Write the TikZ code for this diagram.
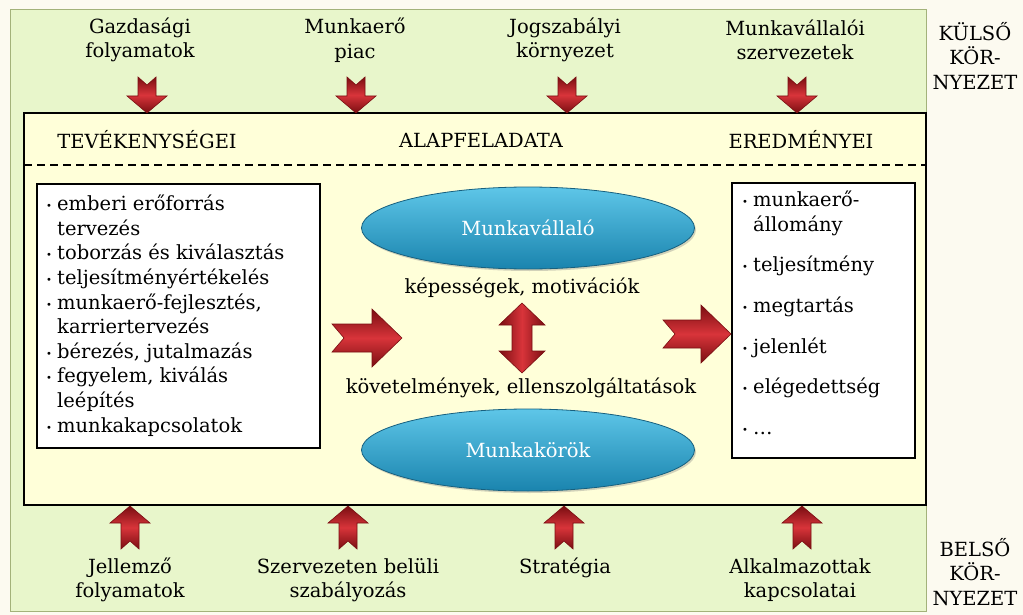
\documentclass[tikz,border=0pt]{standalone}
\usepackage{fontspec}
\setmainfont{DejaVu Serif}
\usetikzlibrary{shapes.geometric,shadows}
\definecolor{bgcream}{HTML}{FCFAF0}
\definecolor{bggreen}{HTML}{E8F6CB}
\definecolor{greenline}{HTML}{A3B27A}
\definecolor{inneryellow}{HTML}{FFFFD9}
\definecolor{arrdark}{HTML}{7A0E12}
\definecolor{arrlight}{HTML}{D8343A}
\definecolor{elltop}{HTML}{5EC6E8}
\definecolor{ellbot}{HTML}{1A84AE}
\definecolor{ellline}{HTML}{17607F}
\newcommand\blkarrow[8]{% x, y, angle, length, shaft, head, headlen, notch
  \path[arrowstyle, shift={(#1,#2)}, rotate=#3]
    (0,{-#5/2}) -- ({#4-#7},{-#5/2}) -- ({#4-#7},{-#6/2}) -- (#4,0)
    -- ({#4-#7},{#6/2}) -- ({#4-#7},{#5/2}) -- (0,{#5/2}) -- (#8,0) -- cycle;}
\newcommand\bul{\makebox[11pt][l]{\raisebox{1pt}{\fontsize{10}{10}\selectfont•}}}
\newcommand\ind{\hspace*{11pt}}
\begin{document}
\begin{tikzpicture}[x=1pt,y=-1pt,
  font=\fontsize{19.5}{24.6}\selectfont,
  arrowstyle/.style={draw=arrdark, line width=0.6pt, shading=axis,
    top color=arrdark, bottom color=arrdark, middle color=arrlight},
  listbox/.style={draw=black, line width=1.6pt, fill=white, inner sep=0pt},
  ellnode/.style={ellipse, draw=ellline, line width=0.8pt, top color=elltop,
    bottom color=ellbot, minimum width=333pt, minimum height=82pt,
    text=white, drop shadow={shadow xshift=1.5pt, shadow yshift=-2pt, opacity=0.35}},
  lbl/.style={align=center, inner sep=0pt},
  head/.style={inner sep=0pt}]
\useasboundingbox (0,0) rectangle (1023,615);
\fill[bgcream] (0,0) rectangle (1023,615);
% outer green area
\draw[greenline, fill=bggreen, line width=0.8pt] (10,9) rectangle (926,611);
% inner yellow area
\draw[black, fill=inneryellow, line width=1.6pt] (24,113) rectangle (926,505);
\draw[black, line width=1.6pt, dash pattern=on 8pt off 5pt] (24,165) -- (926,165);
% headers
\node[head] (h1) at (147,140) {TEVÉKENYSÉGEI};
\node[head] (h2) at (481,140) {ALAPFELADATA};
\node[head] (h3) at (801,140) {EREDMÉNYEI};
% top labels
\node[lbl] (t1) at (140,40) {Gazdasági\\folyamatok};
\node[lbl] (t2) at (355,40) {Munkaerő\\piac};
\node[lbl] (t3) at (565,40) {Jogszabályi\\környezet};
\node[lbl] (t4) at (795,40) {Munkavállalói\\szervezetek};
% bottom labels
\node[lbl] (b1) at (130,580) {Jellemző\\folyamatok};
\node[lbl] (b2) at (348,580) {Szervezeten belüli\\szabályozás};
\node[lbl] (b3) at (565,568) {Stratégia};
\node[lbl] (b4) at (800,580) {Alkalmazottak\\kapcsolatai};
% side labels
\node[lbl] (s1) at (975,56) {KÜLSŐ\\KÖR-\\NYEZET};
\node[lbl] (s2) at (975,572) {BELSŐ\\KÖR-\\NYEZET};
% top arrows (down)
\blkarrow{147}{77}{-90}{36}{18}{40}{17}{8}
\blkarrow{356}{77}{-90}{36}{18}{40}{17}{8}
\blkarrow{567}{77}{-90}{36}{18}{40}{17}{8}
\blkarrow{797}{77}{-90}{36}{18}{40}{17}{8}
% bottom arrows (up)
\blkarrow{130}{549}{90}{43}{18}{40}{17}{8}
\blkarrow{348}{549}{90}{43}{18}{40}{17}{8}
\blkarrow{564}{549}{90}{43}{18}{40}{17}{8}
\blkarrow{802}{549}{90}{43}{18}{40}{17}{8}
% list boxes
\node[listbox, minimum width=283pt, minimum height=264pt] (lb) at (178.5,316) {};
\node[listbox, minimum width=183pt, minimum height=275pt] (rb) at (823.5,320.5) {};
\node[anchor=north west, align=left, inner sep=0pt] (lt) at (46,195)
{\bul emberi erőforrás\\
\ind tervezés\\
\bul toborzás és kiválasztás\\
\bul teljesítményértékelés\\
\bul munkaerő-fejlesztés,\\
\ind karriertervezés\\
\bul bérezés, jutalmazás\\
\bul fegyelem, kiválás\\
\ind leépítés\\
\bul munkakapcsolatok};
\node[anchor=north west, align=left, inner sep=0pt] (rt) at (742,191)
{\bul munkaerő-\\
\ind állomány\\[16pt]
\bul teljesítmény\\[16pt]
\bul megtartás\\[16pt]
\bul jelenlét\\[16pt]
\bul elégedettség\\[16pt]
\bul …};
% ellipses
\node[ellnode] (e1) at (528,228) {Munkavállaló};
\node[ellnode] (e2) at (528,450) {Munkakörök};
\node[inner sep=0pt] (k1) at (522,288) {képességek, motivációk};
\node[inner sep=0pt] (k2) at (521,388) {követelmények, ellenszolgáltatások};
% middle arrows
\blkarrow{332}{338}{0}{70}{28}{58}{30}{12}
\blkarrow{663}{334}{0}{68}{28}{58}{30}{12}
\path[arrowstyle, shading angle=90]
  (522,303) -- (545,325) -- (532,325) -- (532,351) -- (545,351) -- (522,373)
  -- (499,351) -- (512,351) -- (512,325) -- (499,325) -- cycle;
\end{tikzpicture}
\end{document}
